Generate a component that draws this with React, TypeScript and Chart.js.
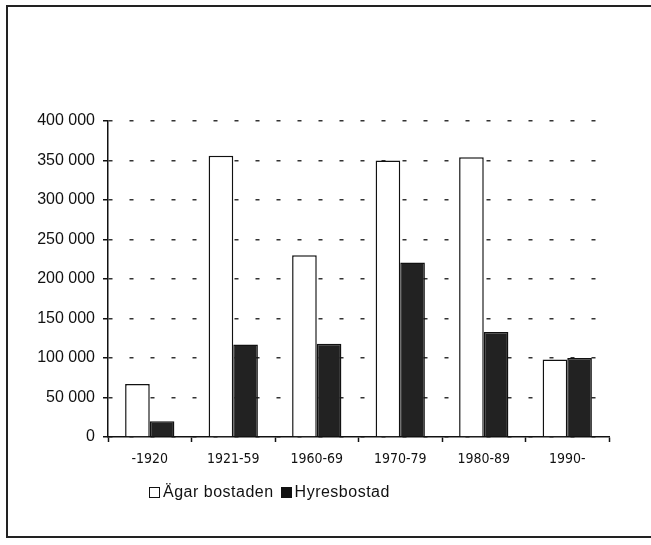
import React, { useEffect, useRef } from "react";
import { Chart, registerables } from "chart.js";

Chart.register(...registerables);

const categories = ["-1920", "1921-59", "1960-69", "1970-79", "1980-89", "1990-"];
const seriesNames = ["Ägar bostaden", "Hyresbostad"];
const agarBostaden = [67000, 356000, 230000, 350000, 354000, 98000];
const hyresbostad = [20000, 117000, 118000, 221000, 133000, 100000];
const yMin = 0;
const yMax = 400000;
const yStep = 50000;

const fmt = (v: number) => String(v).replace(/\B(?=(\d{3})+(?!\d))/g, " ");

export default function App() {
  const ref = useRef<HTMLCanvasElement | null>(null);

  useEffect(() => {
    if (!ref.current) return;
    const chart = new Chart(ref.current, {
      type: "bar",
      data: {
        labels: categories,
        datasets: [
          {
            label: seriesNames[0],
            data: agarBostaden,
            backgroundColor: "#ffffff",
            borderColor: "#111111",
            borderWidth: 1.5,
            categoryPercentage: 0.59,
            barPercentage: 1,
          },
          {
            label: seriesNames[1],
            data: hyresbostad,
            backgroundColor: "#222222",
            borderColor: "#111111",
            borderWidth: 1.5,
            categoryPercentage: 0.59,
            barPercentage: 1,
          },
        ],
      },
      options: {
        responsive: false,
        animation: false,
        layout: { padding: { top: 121, left: 0, right: 42, bottom: 68 } },
        plugins: { legend: { display: false }, tooltip: { enabled: false } },
        scales: {
          x: {
            type: "category",
            grid: {
              offset: true,
              drawOnChartArea: false,
              drawTicks: true,
              tickLength: 5,
              tickColor: "#111",
              tickWidth: 1.5,
            },
            border: { display: true, color: "#111", width: 1.5 },
            ticks: {
              color: "#111",
              padding: 9,
              font: {
                family: '"DejaVu Sans Condensed", "DejaVu Sans"',
                size: 14,
                weight: "condensed" as any,
              },
              maxRotation: 0,
              autoSkip: false,
            },
            afterFit: (s: any) => {
              s.height = 40;
            },
          },
          y: {
            min: yMin,
            max: yMax,
            grid: {
              color: "#333",
              lineWidth: 1.5,
              drawTicks: true,
              tickLength: 5,
              tickColor: "#111",
              tickWidth: 1.5,
              tickBorderDash: [],
            } as any,
            border: { display: true, color: "#111", width: 1.5, dash: [4, 17], dashOffset: 0 } as any,
            ticks: {
              stepSize: yStep,
              color: "#111",
              padding: 8,
              font: { family: '"Liberation Sans", Arial, sans-serif', size: 16 },
              callback: (v: any) => fmt(Number(v)),
            },
            afterFit: (s: any) => {
              s.width = 108;
            },
          },
        },
      },
    });
    return () => chart.destroy();
  }, []);

  const legendFont = '"Liberation Sans", Arial, sans-serif';
  const box = (fill: string) => (
    <span
      style={{
        display: "inline-block",
        width: 9,
        height: 9,
        border: "1.5px solid #111",
        background: fill,
        marginRight: 3,
      }}
    />
  );

  return (
    <div style={{ position: "absolute", left: 0, top: 0, width: 651, height: 545, background: "#fff", overflow: "hidden" }}>
      <canvas ref={ref} width={651} height={545} style={{ position: "absolute", left: 0, top: 0 }} />
      <div
        style={{
          position: "absolute",
          left: 6,
          top: 5,
          width: 700,
          height: 529,
          borderLeft: "2px solid #222",
          borderTop: "2px solid #222",
          borderBottom: "2px solid #222",
          pointerEvents: "none",
        }}
      />
      <div
        style={{
          position: "absolute",
          left: 149,
          top: 483,
          fontFamily: legendFont,
          fontSize: 16,
          lineHeight: "18px",
          letterSpacing: "0.5px",
          color: "#111",
          whiteSpace: "nowrap",
          display: "flex",
          alignItems: "center",
        }}
      >
        {box("#fff")}
        <span style={{ marginRight: 7 }}>{seriesNames[0]}</span>
        {box("#111")}
        <span>{seriesNames[1]}</span>
      </div>
    </div>
  );
}
